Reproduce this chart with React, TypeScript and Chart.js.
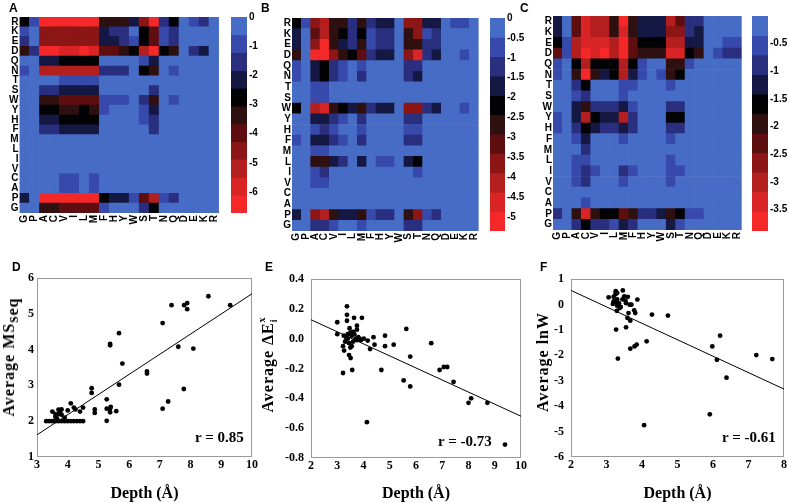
import React, { useEffect, useRef } from "react";
import { Chart, registerables } from "chart.js";
Chart.register(...registerables);

const SANS = "'Liberation Sans', Arial, sans-serif";
const SERIF = "'Liberation Serif', 'Times New Roman', serif";

// ---------- heatmap data ----------
const aminoCols = ["G","P","A","C","V","I","L","M","F","H","Y","W","S","T","N","Q","D","E","K","R"];
const aminoRows = ["R","K","E","D","Q","N","T","S","W","Y","H","F","M","L","I","V","C","A","P","G"];

// colour-band level per cell: 0 = top band (≈0) ... 10 = bottom band (most negative)
const heatA = [
  [4,1,10,10,10,10,10,10,5,5,5,3,7,10,2,4,0,1,2,0],
  [1,0,7,7,7,7,7,7,3,2,2,0,4,6,1,2,0,0,0,0],
  [2,0,7,7,7,7,7,7,3,3,2,1,4,6,1,2,0,0,0,0],
  [5,2,10,10,9,9,10,9,6,6,5,4,8,10,4,5,0,2,3,0],
  [0,0,3,3,4,4,4,4,0,0,0,0,1,3,0,0,0,0,0,0],
  [1,0,8,8,8,8,8,8,2,2,2,0,4,5,0,1,0,0,0,0],
  [0,0,0,0,1,1,1,1,0,0,0,0,0,0,0,0,0,0,0,0],
  [0,0,2,2,3,3,3,3,0,0,0,0,0,2,0,0,0,0,0,0],
  [0,0,5,5,6,6,6,6,1,1,1,0,2,5,0,1,0,0,0,0],
  [0,0,4,4,5,5,4,5,1,0,0,0,1,3,0,0,0,0,0,0],
  [0,0,3,3,4,4,4,4,0,0,0,0,1,2,0,0,0,0,0,0],
  [0,0,2,2,3,3,3,3,0,0,0,0,0,2,0,0,0,0,0,0],
  [0,0,0,0,0,0,0,0,0,0,0,0,0,0,0,0,0,0,0,0],
  [0,0,0,0,0,0,0,0,0,0,0,0,0,0,0,0,0,0,0,0],
  [0,0,0,0,0,0,0,0,0,0,0,0,0,0,0,0,0,0,0,0],
  [0,0,0,0,0,0,0,0,0,0,0,0,0,0,0,0,0,0,0,0],
  [0,0,0,0,1,1,0,1,0,0,0,0,0,0,0,0,0,0,0,0],
  [0,0,0,0,1,1,0,1,0,0,0,0,0,0,0,0,0,0,0,0],
  [3,0,10,10,10,10,10,10,4,3,3,1,6,8,1,2,0,0,0,0],
  [0,0,5,5,6,6,6,6,1,0,0,0,2,4,0,0,0,0,0,0],
];
const heatB = [
  [4,1,7,8,5,5,2,5,2,3,3,0,7,7,3,3,0,1,1,0],
  [3,0,6,8,5,4,2,4,1,2,2,0,5,7,1,2,0,0,0,0],
  [3,0,7,10,5,3,2,5,1,2,2,0,5,5,2,2,0,0,0,0],
  [5,0,10,10,7,5,4,6,2,3,3,0,7,9,2,3,0,0,1,0],
  [1,0,3,4,2,1,0,1,0,0,0,0,2,2,0,0,0,0,0,0],
  [1,0,3,4,2,1,0,2,0,0,0,0,2,3,0,0,0,0,0,0],
  [0,0,1,1,0,0,0,0,0,0,0,0,0,0,0,0,0,0,0,0],
  [0,0,1,1,0,0,0,0,0,0,0,0,0,0,0,0,0,0,0,0],
  [4,0,8,9,5,4,3,5,2,3,3,0,7,7,2,3,0,0,1,0],
  [0,0,3,3,2,1,0,2,0,0,0,0,2,2,0,0,0,0,0,0],
  [0,0,1,2,1,0,0,1,0,0,0,0,1,1,0,0,0,0,0,0],
  [1,0,3,3,2,1,0,2,0,0,0,0,2,2,0,0,0,0,0,0],
  [0,0,1,1,0,0,0,0,0,0,0,0,0,0,0,0,0,0,0,0],
  [0,0,5,5,3,2,0,3,0,1,1,0,3,4,0,0,0,0,0,0],
  [0,0,1,2,0,0,0,0,0,0,0,0,0,1,0,0,0,0,0,0],
  [0,0,1,1,0,0,0,0,0,0,0,0,0,0,0,0,0,0,0,0],
  [0,0,0,0,0,0,0,0,0,0,0,0,0,0,0,0,0,0,0,0],
  [0,0,0,0,0,0,0,0,0,0,0,0,0,0,0,0,0,0,0,0],
  [3,0,7,8,5,3,3,5,1,2,2,0,5,7,1,2,0,0,0,0],
  [0,0,2,2,1,0,0,1,0,0,0,0,2,2,0,0,0,0,0,0],
];
const heatC = [
  [3,0,6,9,8,8,5,10,5,3,3,3,8,6,2,2,0,0,0,0],
  [3,0,6,9,8,8,5,9,5,3,3,3,7,7,2,3,0,0,0,0],
  [4,1,8,9,9,9,8,10,6,4,4,4,8,8,3,3,0,0,1,1],
  [6,1,8,10,9,10,8,10,6,5,5,5,9,9,4,5,0,1,2,2],
  [1,0,4,8,4,4,4,8,4,1,0,0,5,5,1,0,0,0,0,0],
  [1,0,5,10,5,3,4,8,3,1,0,1,5,4,0,0,0,0,0,0],
  [0,0,2,4,0,0,0,1,1,0,0,0,1,0,0,0,0,0,0,0],
  [0,0,1,2,0,0,0,1,0,0,0,0,0,0,0,0,0,0,0,0],
  [0,0,3,5,2,2,2,3,1,0,0,0,2,2,0,0,0,0,0,0],
  [1,0,3,8,4,3,3,8,2,0,0,0,4,4,0,0,0,0,0,0],
  [1,0,2,4,3,2,2,3,2,0,0,0,2,2,0,0,0,0,0,0],
  [0,0,1,3,0,0,0,1,0,0,0,0,1,0,0,0,0,0,0,0],
  [0,0,0,2,0,0,0,0,0,0,0,0,0,0,0,0,0,0,0,0],
  [0,0,1,1,0,0,0,0,0,0,0,0,1,0,0,0,0,0,0,0],
  [0,0,1,2,1,0,0,2,1,0,0,0,1,1,0,0,0,0,0,0],
  [0,0,1,2,0,0,0,1,0,0,0,0,1,0,0,0,0,0,0,0],
  [0,0,0,0,0,0,0,0,0,0,0,0,0,0,0,0,0,0,0,0],
  [0,0,0,1,0,0,0,0,0,0,0,0,0,0,0,0,0,0,0,0],
  [2,0,5,9,5,4,4,6,5,2,2,3,5,4,1,1,0,0,0,0],
  [0,0,2,4,2,2,1,3,2,0,0,0,3,1,0,0,0,0,0,0],
];

const bandColors = ["#476cc6","#3749ab","#292f7e","#141842","#030305","#2e1010","#5e0e0e","#8c1616","#b31e1e","#d82424","#f42828"];

// colour bar ranges & ticks
const cbRangeA = [-6.72, 0];
const cbTicksA = [0, -1, -2, -3, -4, -5, -6];
const cbRangeB = [-5.35, 0];
const cbTicksB = [0, -0.5, -1, -1.5, -2, -2.5, -3, -3.5, -4, -4.5, -5];
const cbRangeC = [-3.89, 0];
const cbTicksC = [-0.5, -1, -1.5, -2, -2.5, -3, -3.5];

// ---------- scatter data ----------
const dDepth = [3.3,3.4,3.5,3.6,3.7,3.8,3.9,4.0,4.1,4.2,4.3,4.4,4.5,
  3.5,3.6,3.6,3.65,3.7,3.7,3.75,3.8,3.8,3.9,4.0,4.1,4.2,4.25,4.4,4.5,
  4.78,4.78,4.88,4.88,5.27,5.27,5.27,5.38,5.38,5.4,5.58,5.38,5.38,5.67,5.78,5.67,
  6.58,6.58,7.09,7.09,7.27,7.38,7.6,7.79,7.89,7.89,7.78,8.09,8.58,9.29];
const dMS = [2,2,2,2,2,2,2,2,2,2,2,2,2,
  2.27,2.12,2.2,2.08,2.32,2.2,2.26,2.33,2.18,2.1,2.3,2.5,2.38,2.33,2.27,2.38,
  2.92,2.79,2.33,2.23,2.61,2.35,2.01,2.35,2.25,2.4,2.28,4.16,4.12,4.46,3.61,3.02,
  3.39,3.33,4.74,2.35,2.55,5.24,4.08,5.24,5.3,5.13,2.9,4.03,5.49,5.24];
const dFitX = [3, 10];
const dFitY = [1.62, 5.56];

const eDepth = [3.37,3.37,3.37,3.0,3.64,3.94,3.0,3.47,3.75,3.75,
  3.25,3.3,3.35,3.4,3.45,3.5,3.55,3.6,3.65,3.7,3.75,3.8,3.85,3.55,3.5,3.4,3.6,3.9,
  3.22,3.26,3.22,3.45,3.51,3.57,4.01,4.38,4.16,4.25,4.42,4.82,4.82,5.15,4.13,4.68,
  5.53,5.63,5.78,5.78,6.58,6.9,7.06,7.19,7.43,8.0,8.1,8.72,9.39];
const eDE = [0.217,0.16,0.12,0.11,0.14,0.14,0.03,0.07,0.087,0.06,
  0.02,-0.02,0.0,0.03,-0.03,0.04,0.02,-0.02,0.03,0.0,-0.01,0.01,0.0,-0.05,-0.06,0.0,0.045,-0.01,
  -0.05,-0.08,-0.23,-0.11,-0.13,-0.21,0.0,0.01,-0.013,-0.07,-0.04,0.02,-0.05,-0.04,-0.56,-0.21,
  -0.28,0.065,-0.12,-0.32,-0.03,-0.21,-0.19,-0.19,-0.29,-0.43,-0.4,-0.43,-0.71];
const eFitX = [2, 10];
const eFitY = [0.127, -0.52];

const fDepth = [3.06,3.26,3.46,3.5,3.53,3.87,3.2,3.18,3.29,3.37,3.65,3.7,3.62,3.59,3.67,3.81,3.78,
  3.55,3.27,4.28,4.73,4.13,3.67,3.79,3.85,3.32,4.06,5.98,6.2,6.11,6.38,5.91,7.22,7.67,
  3.2,3.25,3.3,3.3,3.35,3.4,3.45,3.55,3.6,3.25,3.3];
const fLnW = [0.28,0.52,0.55,0.32,0.15,0.19,0.12,0.02,-0.25,-0.14,-0.01,-0.01,-0.34,-0.53,-0.64,-0.34,-0.23,
  -0.9,-0.99,-0.4,-0.44,-1.45,-1.74,-1.65,-1.58,-2.13,-4.75,-1.65,-1.23,-2.18,-2.88,-4.32,-1.99,-2.15,
  0.3,0.4,0.45,0.2,0.05,-0.1,0.2,0.05,0.3,0.1,-0.05];
const fFitX = [2, 8];
const fFitY = [0.55, -3.33];

// ---------- chart builders ----------
const framePlugin = {
  id: "frame",
  beforeDatasetsDraw(chart: any) {
    const { ctx, chartArea } = chart;
    const col = chart.options.plugins?.frame?.color;
    if (!col) return;
    ctx.save();
    ctx.strokeStyle = col;
    ctx.lineWidth = 1;
    ctx.strokeRect(Math.round(chartArea.left) + 0.5, Math.round(chartArea.top) + 0.5,
      Math.round(chartArea.right - chartArea.left) - 1, Math.round(chartArea.bottom - chartArea.top) - 1);
    ctx.restore();
  },
};

function heatConfig(matrix: number[][], g: any) {
  const datasets: any[] = [];
  for (let r = aminoRows.length - 1; r >= 0; r--) {
    datasets.push({
      label: aminoRows[r],
      data: aminoCols.map(() => 1),
      backgroundColor: matrix[r].map((l) => bandColors[l]),
      borderWidth: 0,
      barPercentage: 1,
      categoryPercentage: 1,
    });
  }
  const font = { family: SANS, size: 10, weight: "bold" };
  return {
    type: "bar",
    data: { labels: aminoCols, datasets },
    options: {
      animation: false, responsive: false, events: [],
      plugins: { legend: { display: false }, tooltip: { enabled: false } },
      layout: { padding: { top: g.padTop, right: g.padRight, left: 0, bottom: 0 } },
      scales: {
        x: {
          type: "category", stacked: true, offset: true,
          grid: { display: false, drawTicks: false }, border: { display: false },
          ticks: { autoSkip: false, minRotation: 90, maxRotation: 90, padding: 2, color: "#000", font },
          afterFit: (s: any) => { s.height = g.xAxisH; },
        },
        y: { stacked: true, min: 0, max: aminoRows.length, display: false },
        rows: {
          type: "category", labels: aminoRows, position: "left", offset: true,
          grid: { display: false, drawTicks: false }, border: { display: false },
          ticks: { autoSkip: false, padding: 1, color: "#000", font },
          afterFit: (s: any) => { s.width = g.yAxisW; },
        },
      },
    },
  };
}

function colorbarConfig(range: number[], ticks: number[], g: any) {
  const n = bandColors.length;
  const span = (range[1] - range[0]) / n;
  const datasets = bandColors.map((c, i) => ({
    data: [[range[1] - (i + 1) * span, range[1] - i * span]],
    backgroundColor: c, borderWidth: 0, barPercentage: 1, categoryPercentage: 1, grouped: false,
  }));
  return {
    type: "bar",
    data: { labels: [""], datasets },
    options: {
      animation: false, responsive: false, events: [],
      plugins: { legend: { display: false }, tooltip: { enabled: false }, frame: { color: "#7f93cf" } },
      layout: { padding: { top: g.padTop, bottom: g.padBottom, left: 0, right: 0 } },
      scales: {
        x: { display: false },
        y: {
          position: "right", min: range[0], max: range[1],
          grid: { display: false, drawTicks: false }, border: { display: false },
          afterBuildTicks: (s: any) => { s.ticks = ticks.map((v) => ({ value: v })); },
          ticks: { padding: 2, color: "#000", font: { family: SANS, size: 10, weight: "bold" }, callback: (v: any) => String(v) },
          afterFit: (s: any) => { s.width = g.yAxisW; },
        },
      },
    },
    plugins: [framePlugin],
  };
}

function scatterConfig(s: any) {
  const tickFont = { family: SERIF, size: 12, weight: "bold" };
  return {
    type: "scatter",
    data: {
      datasets: [
        { data: s.x.map((x: number, i: number) => ({ x, y: s.y[i] })), pointRadius: 2.4, pointBackgroundColor: "#000", pointBorderWidth: 0 },
        { data: s.fitX.map((x: number, i: number) => ({ x, y: s.fitY[i] })), showLine: true, borderColor: "#000", borderWidth: 1, pointRadius: 0 },
      ],
    },
    options: {
      animation: false, responsive: false, events: [],
      plugins: { legend: { display: false }, tooltip: { enabled: false }, frame: { color: "#9a9a9a" } },
      layout: { padding: { top: s.padTop, right: s.padRight, left: 0, bottom: 0 } },
      scales: {
        x: {
          type: "linear", min: s.xRange[0], max: s.xRange[1],
          grid: { display: false, drawTicks: false }, border: { display: false },
          afterBuildTicks: (sc: any) => { sc.ticks = s.xTicks.map((v: number) => ({ value: v })); },
          ticks: { padding: 1, color: "#000", font: tickFont, callback: (v: any) => String(v) },
          title: { display: true, text: "Depth (Å)", color: "#000", font: { family: SERIF, size: 16, weight: "bold" }, padding: { top: 0, bottom: 0 } },
          afterFit: (sc: any) => { sc.height = s.xAxisH; },
        },
        y: {
          type: "linear", min: s.yRange[0], max: s.yRange[1],
          grid: { display: false, drawTicks: false }, border: { display: false },
          afterBuildTicks: (sc: any) => { sc.ticks = s.yTicks.map((v: number) => ({ value: v })); },
          ticks: { padding: s.yPad, color: "#000", font: tickFont, callback: (v: any) => s.fmt(v) },
          afterFit: (sc: any) => { sc.width = s.yAxisW; },
        },
      },
    },
    plugins: [framePlugin],
  };
}

function ChartBox({ left, top, width, height, make }: any) {
  const ref = useRef<HTMLCanvasElement | null>(null);
  useEffect(() => {
    const chart = new Chart(ref.current as any, make());
    return () => chart.destroy();
  }, []);
  return (
    <canvas ref={ref} width={width} height={height}
      style={{ position: "absolute", left, top, width, height }} />
  );
}

const letterStyle = (left: number, top: number): any => ({
  position: "absolute", left, top, font: `bold 12px ${SANS}`, lineHeight: "12px", color: "#000",
});
const yTitleStyle = (cx: number, cy: number): any => ({
  position: "absolute", left: cx, top: cy, transform: "translate(-50%,-50%) rotate(-90deg)",
  font: `bold 16px ${SERIF}`, letterSpacing: "1px", whiteSpace: "nowrap", lineHeight: "18px", color: "#000",
});
const rStyle = (left: number, top: number): any => ({
  position: "absolute", left, top, font: `bold 15px ${SERIF}`, lineHeight: "15px", whiteSpace: "nowrap", color: "#000",
});

export default function App() {
  return (
    <div style={{ position: "absolute", left: 0, top: 0, width: 788, height: 503, background: "#fff", overflow: "hidden" }}>
      <ChartBox left={0} top={0} width={228} height={235}
        make={() => heatConfig(heatA, { padTop: 17, padRight: 1, yAxisW: 19.5, xAxisH: 22 })} />
      <ChartBox left={231} top={0} width={36} height={235}
        make={() => colorbarConfig(cbRangeA, cbTicksA, { padTop: 17, padBottom: 22, yAxisW: 20 })} />
      <ChartBox left={272} top={0} width={216} height={250}
        make={() => heatConfig(heatB, { padTop: 18, padRight: 1, yAxisW: 20, xAxisH: 19 })} />
      <ChartBox left={490} top={0} width={36} height={250}
        make={() => colorbarConfig(cbRangeB, cbTicksB, { padTop: 18, padBottom: 19, yAxisW: 21 })} />
      <ChartBox left={532} top={0} width={219} height={250}
        make={() => heatConfig(heatC, { padTop: 16, padRight: 1, yAxisW: 21, xAxisH: 20 })} />
      <ChartBox left={752} top={0} width={36} height={250}
        make={() => colorbarConfig(cbRangeC, cbTicksC, { padTop: 16, padBottom: 19, yAxisW: 20 })} />

      <ChartBox left={0} top={260} width={262} height={243}
        make={() => scatterConfig({
          x: dDepth, y: dMS, fitX: dFitX, fitY: dFitY, xRange: [3, 10], yRange: [1, 6],
          xTicks: [3, 4, 5, 6, 7, 8, 9, 10], yTicks: [1, 2, 3, 4, 5, 6], fmt: (v: number) => String(v),
          padTop: 18, padRight: 10, yAxisW: 37, xAxisH: 46, yPad: 3,
        })} />
      <ChartBox left={262} top={260} width={266} height={243}
        make={() => scatterConfig({
          x: eDepth, y: eDE, fitX: eFitX, fitY: eFitY, xRange: [2, 10], yRange: [-0.8, 0.4],
          xTicks: [2, 3, 4, 5, 6, 7, 8, 9, 10], yTicks: [-0.8, -0.6, -0.4, -0.2, 0, 0.2, 0.4], fmt: (v: number) => v.toFixed(1),
          padTop: 19, padRight: 4, yAxisW: 49, xAxisH: 45, yPad: 7,
        })} />
      <ChartBox left={528} top={260} width={260} height={243}
        make={() => scatterConfig({
          x: fDepth, y: fLnW, fitX: fFitX, fitY: fFitY, xRange: [2, 8], yRange: [-6, 1],
          xTicks: [2, 3, 4, 5, 6, 7, 8], yTicks: [-6, -5, -4, -3, -2, -1, 0, 1], fmt: (v: number) => String(v),
          padTop: 19, padRight: 4, yAxisW: 43, xAxisH: 46, yPad: 7,
        })} />

      <div style={letterStyle(9, 2)}>A</div>
      <div style={letterStyle(261, 2)}>B</div>
      <div style={letterStyle(520, 2)}>C</div>
      <div style={letterStyle(12, 261)}>D</div>
      <div style={letterStyle(265, 261)}>E</div>
      <div style={letterStyle(540, 261)}>F</div>

      <div style={yTitleStyle(9, 357)}>Average MS<span style={{ position: "relative", top: 4 }}>seq</span></div>
      <div style={yTitleStyle(269, 363)}>
        Average ΔE<span style={{ fontSize: 10, position: "relative", top: 4, letterSpacing: 0 }}>i</span>
        <span style={{ fontSize: 10, position: "relative", top: -8, left: -3 }}>x</span>
      </div>
      <div style={yTitleStyle(543, 362)}>Average lnW</div>

      <div style={rStyle(195, 430)}>r = 0.85</div>
      <div style={rStyle(438, 434)}>r = -0.73</div>
      <div style={rStyle(722, 430)}>r = -0.61</div>
    </div>
  );
}
